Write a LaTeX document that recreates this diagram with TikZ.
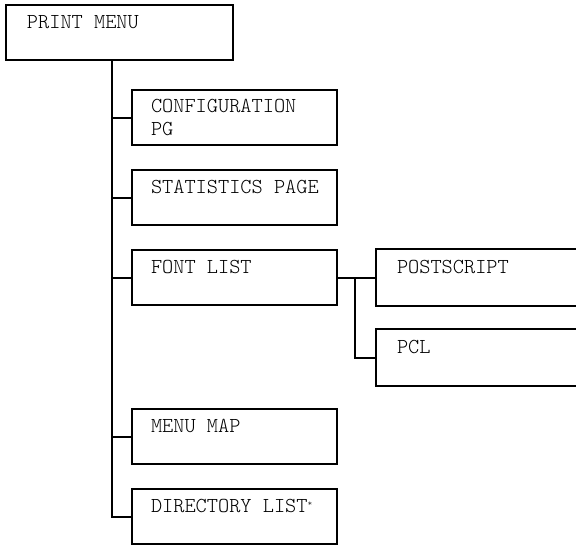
\documentclass[tikz,border=0pt]{standalone}
\usepackage{fontspec}
\setmonofont{Latin Modern Mono Light}
\begin{document}
\begin{tikzpicture}[x=1pt,y=-1pt,
  line width=2pt,
  box/.style={draw, rectangle, anchor=north west, minimum width=205pt, minimum height=55pt, inner sep=0pt},
  openbox/.style={rectangle, anchor=north west, minimum width=210pt, minimum height=55pt, inner sep=0pt},
  lbl/.style={anchor=base west, inner sep=0pt, font=\ttfamily\fontsize{21.3}{23}\selectfont},
  conn/.style={draw, line width=2pt}]
\useasboundingbox (0,0) rectangle (576,546);
% boxes
\node[box, minimum width=227pt] (pm) at (5,4) {};
\node[box] (cfg) at (131,89) {};
\node[box] (stat) at (131,169) {};
\node[box] (font) at (131,249) {};
\node[openbox] (ps) at (376,249) {};
\node[openbox] (pcl) at (376,329) {};
\node[box] (mm) at (131,408) {};
\node[box] (dir) at (131,488) {};
\draw (ps.north east) -- (ps.north west) -- (ps.south west) -- (ps.south east);
\draw (pcl.north east) -- (pcl.north west) -- (pcl.south west) -- (pcl.south east);
% labels
\node[lbl] (tpm) at ([xshift=21pt,yshift=-24pt]pm.north west) {PRINT MENU};
\node[lbl] (tcfg) at ([xshift=19pt,yshift=-23pt]cfg.north west) {CONFIGURATION};
\node[lbl] (tcfg2) at ([xshift=19pt,yshift=-46pt]cfg.north west) {PG};
\node[lbl] (tstat) at ([xshift=19pt,yshift=-24pt]stat.north west) {STATISTICS PAGE};
\node[lbl] (tfont) at ([xshift=19pt,yshift=-24pt]font.north west) {FONT LIST};
\node[lbl] (tps) at ([xshift=20pt,yshift=-24pt]ps.north west) {POSTSCRIPT};
\node[lbl] (tpcl) at ([xshift=20pt,yshift=-24pt]pcl.north west) {PCL};
\node[lbl] (tmm) at ([xshift=19pt,yshift=-24pt]mm.north west) {MENU MAP};
\node[lbl] (tdir) at ([xshift=19pt,yshift=-24pt]dir.north west) {DIRECTORY LIST\raisebox{6pt}{\fontsize{9}{9}\selectfont*}};
% connectors
\coordinate (t0) at (112,59);
\coordinate (s0) at (355,277);
\draw[conn] (t0) |- (dir.west);
\draw[conn] (t0 |- cfg.west) -- (cfg.west);
\draw[conn] (t0 |- stat.west) -- (stat.west);
\draw[conn] (t0 |- font.west) -- (font.west);
\draw[conn] (t0 |- mm.west) -- (mm.west);
\draw[conn] (font.east) -- (ps.west);
\draw[conn] (s0 |- font.east) |- (pcl.west);
\end{tikzpicture}
\end{document}
